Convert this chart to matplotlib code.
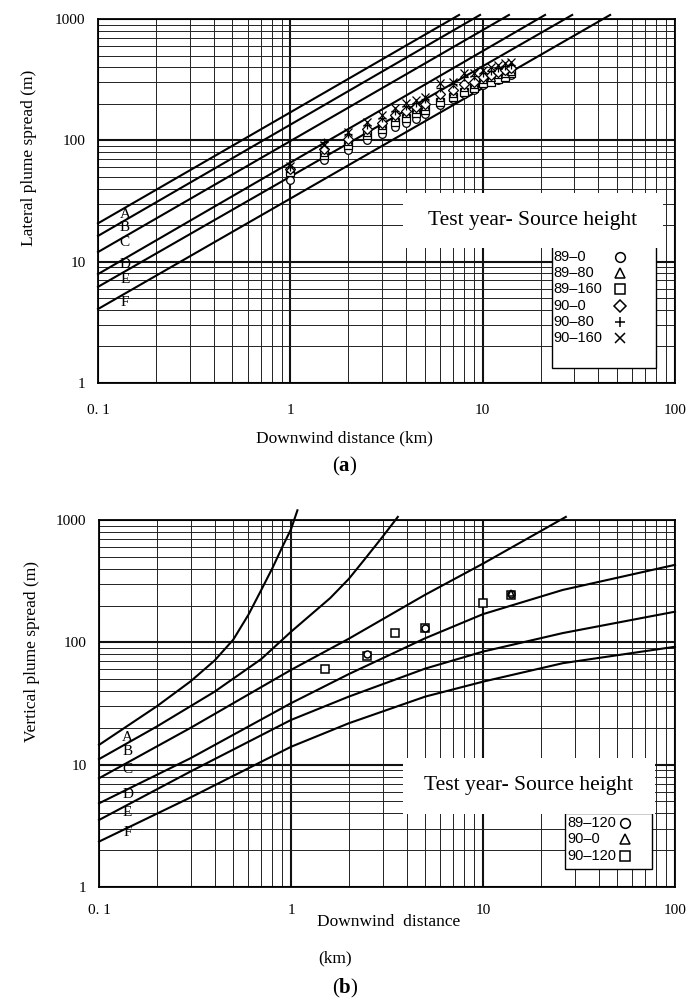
import numpy as np
import matplotlib.pyplot as plt
from matplotlib.patches import Rectangle
from matplotlib.ticker import NullFormatter

plt.rcParams['font.family'] = ['Liberation Serif', 'DejaVu Serif']
plt.rcParams['mathtext.fontset'] = 'custom'
plt.rcParams['mathtext.rm'] = 'Liberation Serif'
plt.rcParams['mathtext.bf'] = 'Liberation Serif:bold'

# axis ticks
x_ticks = [0.1, 1, 10, 100]
x_tick_labels = ['0. 1', '1', '10', '100']
y_ticks = [1, 10, 100, 1000]
y_tick_labels = ['1', '10', '100', '1000']
classes = ['A', 'B', 'C', 'D', 'E', 'F']

# (a) lateral spread, straight lines: value at 0.1 km and where they leave the top
lat_start_y = [20.7, 16.3, 12.0, 7.9, 6.2, 4.07]
lat_end_x = [7.54, 9.69, 13.7, 21.1, 29.2, 46.0]
lat_end_y = 1080
lat_label_y = [24.3, 19.0, 14.3, 9.4, 7.1, 4.65]

# (a) measurements
dist_a = [1, 1.5, 2, 2.5, 3, 3.5, 4, 4.5, 5, 6, 7, 8, 9, 10, 11, 12, 13, 14]
a89_0 = [47, 69, 83, 100, 112, 130, 140, 150, 165, 195, 218, 240, 262, 285, 300, 315, 330, 345]
a89_80 = [59, 80, 98, 118, 135, 155, 168, 180, 192, 228, 245, 275, 290, 320, 335, 350, 360, 375]
a89_160 = [55, 75, 92, 110, 125, 142, 153, 168, 178, 207, 228, 251, 270, 297, 303, 320, 334, 359]
a90_0 = [58, 85, 103, 125, 140, 162, 175, 188, 200, 240, 260, 290, 305, 335, 345, 365, 378, 392]
a90_80 = [60, 97, 112, 135, 152, 175, 192, 205, 218, 270, 290, 330, 340, 362, 375, 395, 408, 420]
a90_160 = [62, 92, 117, 142, 162, 185, 203, 215, 228, 297, 303, 359, 360, 381, 400, 419, 430, 443]

# (b) vertical spread curves
vz_A_x = [0.1, 0.2, 0.3, 0.4, 0.5, 0.6, 0.7, 0.8, 0.9, 1.0, 1.08]
vz_A_y = [14.5, 30, 48, 71, 105, 168, 268, 404, 600, 840, 1200]
vz_B_x = [0.1, 0.2, 0.4, 0.7, 1.0, 1.6, 2.0, 2.4, 3.0, 3.6]
vz_B_y = [11.1, 20.5, 39.5, 73, 122, 230, 330, 470, 730, 1060]
vz_C_x = [0.1, 0.3, 1, 2, 5, 10, 27]
vz_C_y = [7.74, 20, 59.5, 107, 245, 440, 1060]
vz_D_x = [0.1, 0.3, 1, 2, 5, 10, 26, 100]
vz_D_y = [4.83, 11.3, 31.8, 55, 108, 170, 268, 430]
vz_E_x = [0.1, 0.3, 1, 2, 5, 10, 26, 100]
vz_E_y = [3.53, 8.8, 23.2, 36, 61, 84, 119, 178]
vz_F_x = [0.1, 0.3, 1, 2, 5, 10, 26, 100]
vz_F_y = [2.35, 5.4, 14.0, 21.8, 36, 47.7, 67.5, 92]
vz_label_y = [16.8, 12.7, 9.05, 5.65, 4.03, 2.77]

# (b) measurements
b89_120_x = [2.5, 5, 14]
b89_120_y = [80, 132, 247]
b90_0_x = [14]
b90_0_y = [254]
b90_120_x = [1.5, 2.5, 3.5, 5, 10, 14]
b90_120_y = [60, 78, 120, 130, 208, 246]

legend_a = ['89–0', '89–80', '89–160', '90–0', '90–80', '90–160']
legend_a_mk = ['o', '^', 's', 'D', '+', 'x']
legend_b = ['89–120', '90–0', '90–120']
legend_b_mk = ['o', '^', 's']


def style_axes(ax, xpad):
    ax.set_xscale('log')
    ax.set_yscale('log')
    ax.set_xlim(0.1, 100)
    ax.set_ylim(1, 1000)
    ax.set_xticks(x_ticks, x_tick_labels)
    ax.set_yticks(y_ticks, y_tick_labels)
    ax.xaxis.set_minor_formatter(NullFormatter())
    ax.yaxis.set_minor_formatter(NullFormatter())
    ax.grid(which='major', color='#111111', lw=1.5)
    ax.grid(which='minor', color='#222222', lw=0.7)
    ax.set_axisbelow(True)
    ax.tick_params(which='both', length=0, labelsize=11)
    ax.tick_params(axis='x', pad=xpad)
    ax.tick_params(axis='y', pad=9)
    for s in ax.spines.values():
        s.set_linewidth(1.3)


def legend_box(ax, text_rect, box_rect, labels, markers, tx, mx, y0, dy):
    ax.add_patch(Rectangle(box_rect[:2], box_rect[2], box_rect[3], transform=ax.transAxes,
                           fc='white', ec='black', lw=1, zorder=3))
    ax.add_patch(Rectangle(text_rect[:2], text_rect[2], text_rect[3], transform=ax.transAxes,
                           fc='white', ec='none', zorder=4))
    ax.text(text_rect[0] + text_rect[2] / 2, text_rect[1] + text_rect[3] / 2,
            'Test year- Source height', transform=ax.transAxes, ha='center', va='center',
            fontsize=15.5, zorder=5)
    for i, (lab, m) in enumerate(zip(labels, markers)):
        y = y0 - i * dy
        ax.text(tx, y, lab, transform=ax.transAxes, ha='left', va='center',
                fontfamily=['Liberation Sans', 'DejaVu Sans'], fontsize=10.5, zorder=6)
        ax.plot([mx], [y], transform=ax.transAxes, ls='none', marker=m, mfc='white',
                mec='black', ms=7 if m != 'D' else 6.3, mew=1.1, clip_on=False, zorder=6)


fig = plt.figure(figsize=(6.87, 10.01), dpi=100)

# ---------- (a) ----------
ax1 = fig.add_axes([98 / 687, 1 - 383 / 1001, 577 / 687, 364 / 1001])
style_axes(ax1, 15)
for c, y0, xe, ly in zip(classes, lat_start_y, lat_end_x, lat_label_y):
    ax1.plot([0.1, xe], [y0, lat_end_y], color='black', lw=1.5, clip_on=False, zorder=2)
    ax1.text(0.138, ly, c, fontsize=11, ha='center', va='center', zorder=2.5)

mk = dict(ls='none', mfc='white', mec='black', ms=5.5, mew=0.9, zorder=3)
ax1.plot(dist_a, a89_0, marker='o', **mk)
ax1.plot(dist_a, a89_160, marker='s', **mk)
ax1.plot(dist_a, a89_80, marker='^', **mk)
ax1.plot(dist_a, a90_0, marker='D', **dict(mk, ms=4.8))
ax1.plot(dist_a, a90_80, marker='+', **mk)
ax1.plot(dist_a, a90_160, marker='x', **mk)

legend_box(ax1, (0.5286, 0.372, 0.4506, 0.15), (0.787, 0.041, 0.180, 0.335),
           legend_a, legend_a_mk, 0.790, 0.905, 0.346, 0.0445)

ax1.set_ylabel('Lateral plume spread (m)', fontsize=12.5)
ax1.yaxis.set_label_coords(-0.106, 0.618)
fig.text(344 / 687, 1 - 438 / 1001, 'Downwind distance (km)', ha='center', va='center',
         fontsize=12.5)
fig.text(345 / 687, 1 - 466 / 1001, r'($\mathbf{a}$)', ha='center', va='center', fontsize=15)

# ---------- (b) ----------
ax2 = fig.add_axes([99 / 687, 1 - 887 / 1001, 576 / 687, 367 / 1001])
style_axes(ax2, 12)
vz_x = [vz_A_x, vz_B_x, vz_C_x, vz_D_x, vz_E_x, vz_F_x]
vz_y = [vz_A_y, vz_B_y, vz_C_y, vz_D_y, vz_E_y, vz_F_y]
for c, xs, ys, ly in zip(classes, vz_x, vz_y, vz_label_y):
    ax2.plot(xs, ys, color='black', lw=1.5, clip_on=False, zorder=2)
    ax2.text(0.141, ly, c, fontsize=11, ha='center', va='center', zorder=2.5)

mk2 = dict(ls='none', mfc='white', mec='black', ms=6, mew=1.1, zorder=3)
ax2.plot(b90_120_x, b90_120_y, marker='s', **mk2)
ax2.plot(b89_120_x, b89_120_y, marker='o', **dict(mk2, ms=5))
ax2.plot(b90_0_x, b90_0_y, marker='^', **dict(mk2, ms=5))

legend_box(ax2, (0.528, 0.199, 0.437, 0.1525), (0.809, 0.049, 0.151, 0.1526),
           legend_b, legend_b_mk, 0.8125, 0.913, 0.175, 0.0455)

ax2.set_ylabel('Vertical plume spread (m)', fontsize=12.5)
ax2.yaxis.set_label_coords(-0.102, 0.643)
fig.text(389 / 687, 1 - 922 / 1001, 'Downwind  distance', ha='center', va='center',
         fontsize=12.5)
fig.text(335 / 687, 1 - 958 / 1001, '(km)', ha='center', va='center', fontsize=12.5)
fig.text(345 / 687, 1 - 988 / 1001, r'($\mathbf{b}$)', ha='center', va='center', fontsize=15)

fig.savefig('out.png', dpi=100)
